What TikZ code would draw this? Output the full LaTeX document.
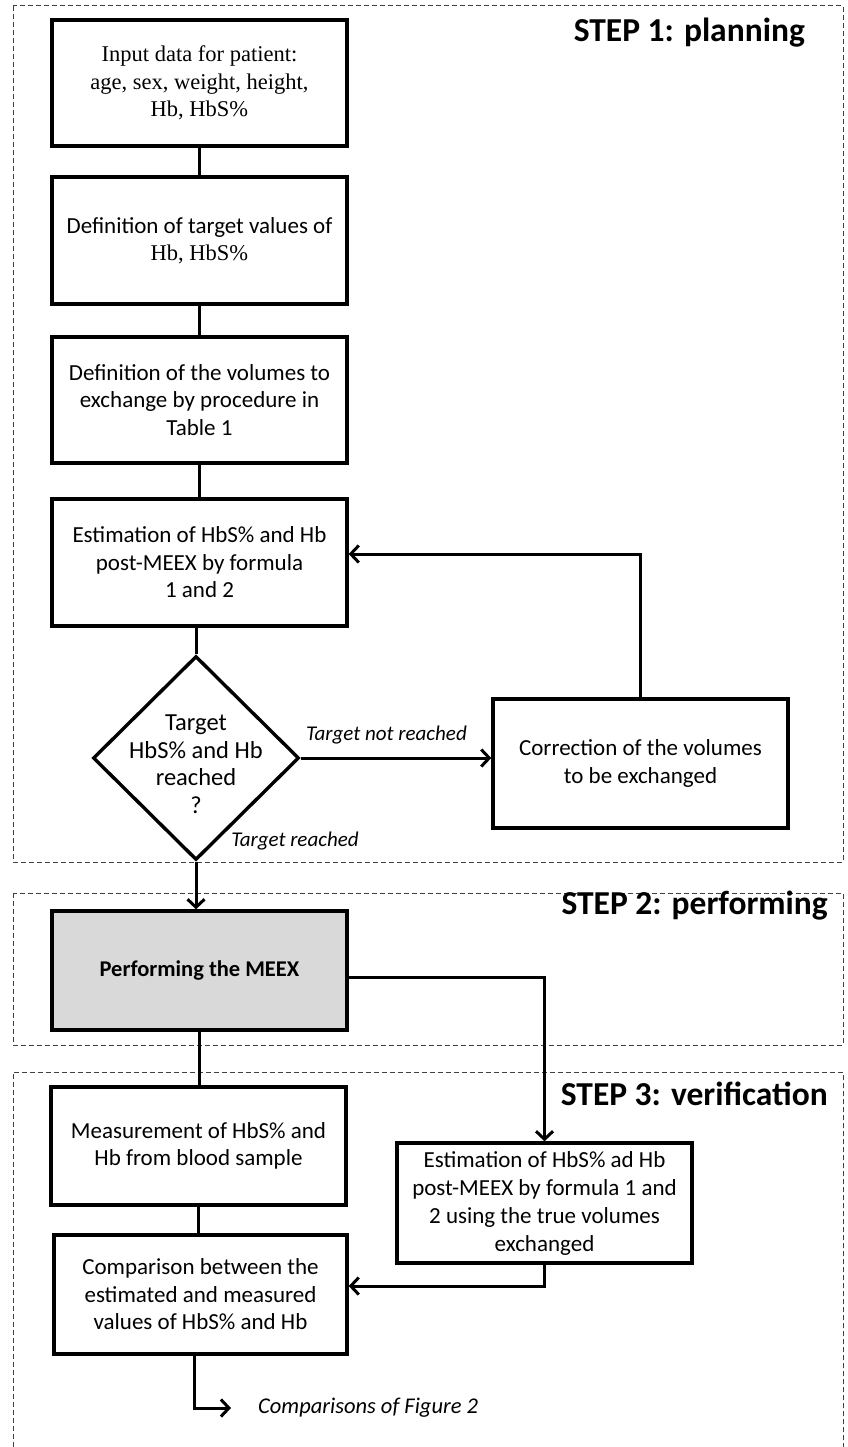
\documentclass[tikz,border=0pt]{standalone}
\usepackage{fontspec}
\setmainfont{Carlito}
\newfontfamily\boxf{Carlito}
\newfontfamily\timesf{Liberation Serif}
\usetikzlibrary{arrows.meta,shapes.geometric,calc}
\begin{document}
\begin{tikzpicture}[x=1pt,y=-1pt,
  box/.style={draw, line width=3.4pt, minimum width=295pt, minimum height=126pt,
    align=center, inner sep=0pt, font=\fontsize{23}{27.5}\selectfont\boxf},
  grayfill/.style={fill=gray!30},
  dia/.style={draw, diamond, line width=3.4pt, minimum width=206pt, minimum height=204pt, inner sep=0pt},
  conn/.style={line width=3pt},
  arr/.style={line width=3pt, -{Straight Barb[length=8pt,width=17pt,line width=3pt]}},
  region/.style={draw=black!75, line width=1pt, dash pattern=on 5pt off 3pt},
  steplabel/.style={font=\fontsize{33.5}{38}\selectfont\bfseries, anchor=east, inner sep=0pt},
  lbl/.style={font=\fontsize{21}{24}\selectfont\itshape, inner sep=0pt},
  tm/.style={font=\fontsize{22.5}{27.5}\selectfont\timesf}
]
\useasboundingbox (0,0) rectangle (847,1447);
\fill[white] (0,0) rectangle (847,1447);

% regions
\draw[region] (13,6) rectangle (843,862);
\draw[region] (13,893) rectangle (843,1045);
\draw[region] (13,1447) -- (13,1072) -- (843,1072) -- (843,1447);

\node[steplabel] (s1) at (805,33) {STEP 1: planning};
\node[steplabel] (s2) at (828,906) {STEP 2: performing};
\node[steplabel] (s3) at (828,1094) {STEP 3: verification};

% boxes
\node[box, tm] (b1) at (199.5,83) {Input data for patient:\\age, sex, weight, height,\\Hb, HbS\%};
\node[box, minimum height=127pt] (b2) at (199.5,240.5) {Definition of target values of\\{\fontsize{22.5}{27.5}\selectfont\timesf Hb, HbS\%}};
\node[box] (b3) at (199.5,400) {Definition of the volumes to\\exchange by procedure in\\Table 1};
\node[box, minimum height=127pt] (b4) at (199.5,562.5) {Estimation of HbS\% and Hb\\post-MEEX by formula\\1 and 2};
\node[dia] (d) at (196,758) {};
\node[font=\fontsize{24.5}{27.5}\selectfont\boxf, align=center, inner sep=0pt] (dt) at (196,764) {Target\\HbS\% and Hb\\reached\\?};
\node[box, minimum height=129pt] (corr) at (640.5,763.5) {Correction of the volumes\\to be exchanged};

\node[box, grayfill, minimum height=119pt, font=\fontsize{22.5}{27}\selectfont\bfseries] (perf) at (199.5,970.5) {Performing the MEEX};
\node[box, minimum height=118pt] (meas) at (198.5,1146) {Measurement of HbS\% and\\Hb from blood sample};
\node[box, minimum height=120pt, font=\fontsize{23}{28}\selectfont\boxf] (est2) at (544.5,1203) {Estimation of HbS\% ad Hb\\post-MEEX by formula 1 and\\2 using the true volumes\\exchanged};
\node[box, minimum width=293pt, minimum height=119pt] (comp) at (200.5,1294.5) {Comparison between the\\estimated and measured\\values of HbS\% and Hb};

% connectors
\draw[conn] (b1.south) -- (b2.north);
\draw[conn] (b2.south) -- (b3.north);
\draw[conn] (b3.south) -- (b4.north);
\draw[conn] (b4.south -| d.north) -- (d.north);
\draw[arr] (d.east) -- (d.east -| corr.west) node[lbl, pos=0.45, above=12pt] (tnr) {Target not reached};
\draw[arr] (corr.north) -- (corr.north |- 0,554) -- (b4.east |- 0,554);
\draw[arr] (d.south) -- (perf.north -| d.south);
\node[lbl] (tr) at (295,841) {Target reached};
\draw[arr] (perf.east |- 0,977) -| (est2.north);
\draw[conn] (perf.south) -- (meas.north -| perf.south);
\draw[conn] (meas.south) -- (comp.north -| meas.south);
\draw[arr] (est2.south) -- (est2.south |- 0,1286) -- (comp.east |- 0,1286);
\coordinate (fend) at (231,1408);
\draw[arr] (comp.south -| 194,0) |- (fend);
\node[font=\fontsize{22.5}{26}\selectfont\itshape, anchor=west, inner sep=0pt] (cf) at (258,1408) {Comparisons of Figure 2};
\end{tikzpicture}
\end{document}
